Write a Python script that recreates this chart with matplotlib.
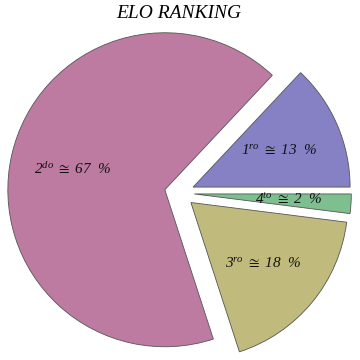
import matplotlib
matplotlib.use("Agg")
import matplotlib.pyplot as plt

# Data
places = ["1", "2", "3", "4"]
suffixes = ["ro", "do", "ro", "to"]
shares = [13, 67, 18, 2]
colors = ["#8581C4", "#BE7BA1", "#C0BA7C", "#7DBF8F"]
title = "ELO RANKING"

plt.rcParams["mathtext.fontset"] = "custom"
plt.rcParams["mathtext.rm"] = "Liberation Serif:italic"
plt.rcParams["mathtext.it"] = "Liberation Serif:italic"
plt.rcParams["mathtext.bf"] = "Liberation Serif:italic:bold"
plt.rcParams["mathtext.fallback"] = "stix"

labels = [r"$%s^{%s}\ \cong\ %d\ \ \%%$" % (p, s, v)
          for p, s, v in zip(places, suffixes, shares)]
label_iter = iter(labels)

fig = plt.figure(figsize=(3.6, 3.6), dpi=100)
ax = fig.add_axes([0, 0, 1, 1])

wedges, texts, autotexts = ax.pie(
    shares,
    colors=colors,
    explode=[0.095] * len(shares),
    startangle=0,
    counterclock=True,
    autopct=lambda pct: next(label_iter),
    pctdistance=0.6,
    wedgeprops=dict(edgecolor="#555555", linewidth=0.6),
    textprops=dict(fontsize=11, color="#111111"),
)

r_px = 157.0
cx_px, cy_px = 179.4, 193.0
ax.set_xlim(-cx_px / r_px, (360 - cx_px) / r_px)
ax.set_ylim(-(360 - cy_px) / r_px, cy_px / r_px)
ax.set_aspect("equal")
ax.axis("off")

fig.text(0.497, 1 - 18 / 360, title, ha="center", va="baseline",
         fontsize=14, fontstyle="italic", family="Liberation Serif")

fig.savefig("out.png", dpi=100)
